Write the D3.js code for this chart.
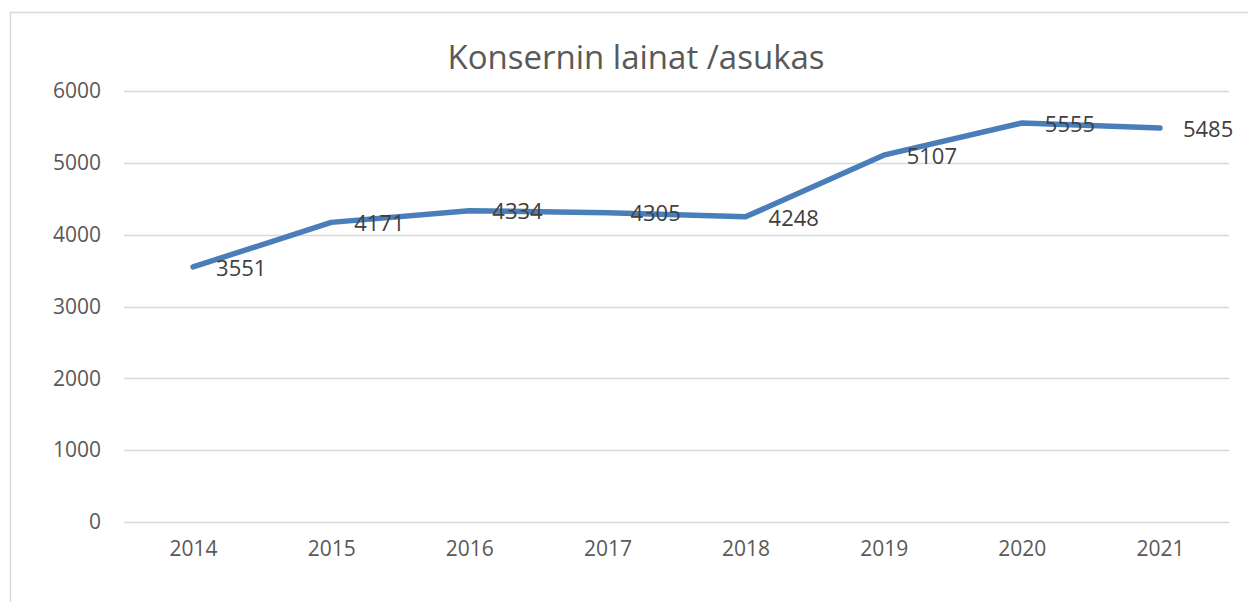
<!DOCTYPE html>
<html>
<head>
<meta charset="utf-8">
<script src="https://cdn.jsdelivr.net/npm/d3@7"></script>
<style>
  body { margin: 0; background: #fff; }
  svg { display: block; font-family: "Open Sans", sans-serif; }
</style>
</head>
<body>
<svg id="chart" width="1248" height="602"></svg>
<script>
var years = ['2014', '2015', '2016', '2017', '2018', '2019', '2020', '2021']
var values = [3551, 4171, 4334, 4305, 4248, 5107, 5555, 5485]
var yTicks = [0, 1000, 2000, 3000, 4000, 5000, 6000]
var title = 'Konsernin lainat /asukas'

var svg = d3.select('#chart')

// chart frame
svg.append('rect')
    .attr('x', 10.5)
    .attr('y', 12.5)
    .attr('width', 1260)
    .attr('height', 620)
    .attr('fill', '#fff')
    .attr('stroke', '#d9d9d9')
    .attr('stroke-width', 1.5)

var plotLeft = 124, plotRight = 1229, plotTop = 91, plotBottom = 522

var x = d3.scalePoint()
    .domain(years)
    .range([plotLeft, plotRight])
    .padding(0.5)

var y = d3.scaleLinear()
    .domain([0, 6000])
    .range([plotBottom, plotTop])

// gridlines
svg.append('g')
    .selectAll('line')
    .data(yTicks)
    .enter()
    .append('line')
        .attr('x1', plotLeft)
        .attr('x2', plotRight)
        .attr('y1', function(d) { return Math.round(y(d)) + 0.5 })
        .attr('y2', function(d) { return Math.round(y(d)) + 0.5 })
        .attr('stroke', '#d9d9d9')
        .attr('stroke-width', 1.5)

// y axis labels
var yAxis = svg.append('g')
    .attr('transform', 'translate(' + (plotLeft - 23) + ',0)')
    .call(d3.axisLeft(y).tickValues(yTicks).tickFormat(d3.format('d')).tickSize(0).tickPadding(0))
yAxis.select('.domain').remove()
yAxis.selectAll('text')
    .attr('font-family', '"Open Sans", sans-serif')
    .attr('font-size', 21)
    .attr('fill', '#595959')

// x axis labels
var xAxis = svg.append('g')
    .attr('transform', 'translate(0,' + (plotBottom + 19) + ')')
    .call(d3.axisBottom(x).tickSize(0).tickPadding(0))
xAxis.select('.domain').remove()
xAxis.selectAll('text')
    .attr('font-family', '"Open Sans", sans-serif')
    .attr('font-size', 21)
    .attr('fill', '#595959')

// line
var line = d3.line()
    .x(function(d, i) { return x(years[i]) })
    .y(function(d) { return y(d) })

svg.append('path')
    .datum(values)
    .attr('d', line)
    .attr('fill', 'none')
    .attr('stroke', '#4a7ebb')
    .attr('stroke-width', 5.5)
    .attr('stroke-linecap', 'round')
    .attr('stroke-linejoin', 'round')

// data labels
svg.append('g')
    .selectAll('text')
    .data(values)
    .enter()
    .append('text')
        .attr('x', function(d, i) { return x(years[i]) + 23 })
        .attr('y', function(d) { return y(d) + 1 })
        .attr('dy', '0.35em')
        .attr('font-size', 22)
        .attr('fill', '#404040')
        .text(function(d) { return d })

// title
svg.append('text')
    .attr('x', 636)
    .attr('y', 57)
    .attr('dy', '0.35em')
    .attr('text-anchor', 'middle')
    .attr('font-size', 33)
    .attr('fill', '#595959')
    .text(title)
</script>
</body>
</html>
